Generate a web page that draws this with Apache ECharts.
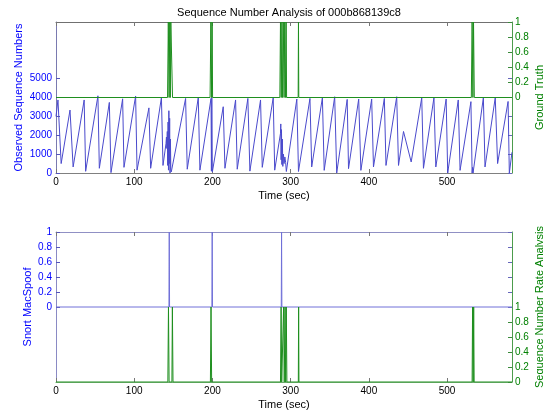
<!DOCTYPE html>
<html><head><meta charset="utf-8">
<script src="https://cdn.jsdelivr.net/npm/echarts@6/dist/echarts.min.js"></script>
<style>html,body{margin:0;padding:0;background:#fff}#c{width:543px;height:413px}</style>
</head><body><div id="c"></div>
<script>
// ---- data ----
var titleText = 'Sequence Number Analysis of 000b868139c8';
var xTicks = [0, 100, 200, 300, 400, 500];
var seqTicks = [0, 1000, 2000, 3000, 4000, 5000];
var unitTicks = [0, 0.2, 0.4, 0.6, 0.8, 1];

var seqTime = [0,2.5,6.6,17.9,21.9,36.0,37.9,53.6,55.4,68.2,70.3,85.2,86.9,101.8,103.6,118.8,121.0,134.8,136.8,
  140.6,141.2,141.7,142.3,142.8,143.3,143.8,144.3,144.8,145.3,145.8,146.3,146.8,147.4,
  165.7,167.8,181.9,184.0,198.2,198.7,199.2,199.9,213.8,216.0,229.6,231.7,245.3,247.9,261.5,263.7,277.7,279.6,
  287.0,287.4,287.8,288.3,288.8,289.4,290.0,290.8,291.6,292.6,293.6,294.5,
  307.9,310.0,324.7,326.9,340.6,342.9,356.3,358.9,372.3,374.0,387.0,389.8,403.6,405.9,419.8,421.9,435.6,437.9,
  444.3,454.1,467.6,469.8,483.2,485.6,498.8,500.8,514.3,516.6,530.5,532.0,532.6,533.2,546.4,548.5,561.6,564.6,578.0,579.6,583.0];
var seqValue = [3000,3870,500,3335,320,3870,90,4090,250,3740,20,3930,300,4080,150,3450,250,4000,400,
  1550,1900,1300,2200,400,2700,150,3300,500,2900,0,1800,200,60,
  3950,200,3990,150,3950,100,4000,50,3510,250,3870,200,3950,100,3870,300,3990,150,
  2100,2600,700,2300,450,1800,350,1000,500,850,550,80,
  3920,80,3950,320,3990,140,4040,0,3900,230,3920,140,3920,320,3950,400,4040,400,
  2200,585,3990,250,3990,320,3920,0,3870,140,3780,0,300,0,3990,320,3990,500,3790,0,1100];

var truthTime = [0,142.6,143.6,144.6,145.4,146.2,146.8,148.0,149.0,197.0,198.0,199.0,199.6,200.2,
  286.2,287.0,288.0,288.8,289.6,290.6,291.6,292.4,293.5,294.2,294.8,309.6,310.0,310.4,531.0,532.0,533.0,533.8,534.8,583];
var truthValue = [0,0,1,0,1,0,1,1,0,0,1,0,1,0,
  0,1,0,1,0,1,0,1,0,1,0,0,1,0,0,1,0,1,0,0];

var snortTime = [0,144.4,144.8,145.2,199.3,199.7,200.1,288.0,288.4,288.8,583];
var snortValue = [0,0,1,0,0,1,0,0,1,0,0];

var rateTime = [0,143.0,143.8,144.6,148.2,148.8,149.6,197.4,198.2,199.0,287.0,287.8,288.6,290.4,291.0,291.8,292.8,293.6,294.4,295.2,
  309.8,310.2,310.6,532.0,532.6,533.4,534.0,534.6,583];
var rateValue = [0,0,1,0,0,1,0,0,1,0,0,1,0,0,1,0,1,0,1,0,0,1,0,0,1,0,1,0,0];

function pairs(t, v){ return t.map(function(x,i){ return [x, v[i]]; }); }

// ---- chart ----
var FONT = "'Liberation Sans', Arial, sans-serif";
var BLUE = '#0000ff', GREEN = '#008000';
var chart = echarts.init(document.getElementById('c'), null, {renderer:'canvas'});
function plain(v){ return String(Math.round(v*10)/10); }

function xAx(grid, pos, labels, lineColor){
  return {
    type:'value', gridIndex:grid, position:pos, min:0, max:583, interval:100,
    axisLine:{show:true, onZero:false, lineStyle:{color:lineColor, width:1}},
    axisTick:{show:true, inside:true, length:4, lineStyle:{color:'#777'}, customValues:xTicks},
    axisLabel:{show:labels, margin:4, fontSize:10, color:'#000', fontFamily:FONT, customValues:xTicks, formatter:plain},
    splitLine:{show:false},
    name: labels ? 'Time (sec)' : '', nameLocation:'middle', nameGap:17, nameMoveOverlap:false,
    nameTextStyle:{fontSize:11, color:'#000', fontFamily:FONT}
  };
}
function yAx(grid, pos, min, max, interval, ticks, opts){
  return {
    type:'value', gridIndex:grid, position:pos, min:min, max:max, interval:interval,
    axisLine:{show:opts.line!==false, onZero:false, lineStyle:{color:opts.lineColor||'#888', width:1}},
    axisTick:{show:true, inside:true, length:4, lineStyle:{color:opts.tickColor}, customValues:ticks},
    axisLabel:{show:!!opts.labels, margin:opts.margin||4, fontSize:10, color:opts.textColor, fontFamily:FONT, customValues:ticks, formatter:plain},
    splitLine:{show:false},
    name: opts.name||'', nameLocation:'middle', nameRotate:90, nameGap:opts.nameGap||30, nameMoveOverlap:false,
    nameTextStyle:{fontSize:11, color:opts.textColor, fontFamily:FONT}
  };
}

var option = {
  animation:false,
  backgroundColor:'#fff',
  title:{text:titleText, left:284, top:2, textAlign:'center',
    textStyle:{fontSize:11, fontWeight:'normal', color:'#000', fontFamily:FONT}},
  grid:[
    {left:56, top:22, width:456, height:151, show:false, containLabel:false, outerBoundsMode:'none'},
    {left:56, top:232, width:456, height:150, show:false, containLabel:false, outerBoundsMode:'none'}
  ],
  xAxis:[
    xAx(0,'bottom',true,'#808080'),
    xAx(0,'top',false,'#707070'),
    xAx(1,'bottom',true,'#6aaa6a'),
    xAx(1,'top',false,'#9090c4')
  ],
  yAxis:[
    yAx(0,'left',0,8000,1000,seqTicks,{labels:true,lineColor:'#7a7ab0',tickColor:'#5555bb',textColor:BLUE,name:'Observed Sequence Numbers',nameGap:32}),
    yAx(0,'right',-1,1,0.2,unitTicks,{labels:true,lineColor:'#4c9c4c',tickColor:'#3a8a3a',textColor:GREEN,name:'Ground Truth',nameGap:22,margin:3}),
    yAx(0,'right',0,8000,1000,seqTicks,{labels:false,line:false,tickColor:'#6666bb',textColor:BLUE}),
    yAx(1,'left',-1,1,0.2,unitTicks,{labels:true,lineColor:'#8a8ac4',tickColor:'#5555bb',textColor:BLUE,name:'Snort MacSpoof',nameGap:23}),
    yAx(1,'right',0,2,0.2,unitTicks,{labels:true,lineColor:'#4c9c4c',tickColor:'#3a8a3a',textColor:GREEN,name:'Sequence Number Rate Analysis',nameGap:22,margin:3}),
    yAx(1,'right',-1,1,0.2,unitTicks,{labels:false,line:false,tickColor:'#6666bb',textColor:BLUE})
  ],
  series:[
    {type:'line', xAxisIndex:0, yAxisIndex:0, data:pairs(seqTime,seqValue), symbol:'none',
      lineStyle:{color:'#4a4acc', width:1}, z:2},
    {type:'line', xAxisIndex:0, yAxisIndex:1, data:pairs(truthTime,truthValue), symbol:'none',
      lineStyle:{color:'#1f8f1f', width:1}, z:3},
    {type:'line', xAxisIndex:2, yAxisIndex:3, data:pairs(snortTime,snortValue), symbol:'none',
      lineStyle:{color:'#7070d8', width:1}, z:2},
    {type:'line', xAxisIndex:2, yAxisIndex:4, data:pairs(rateTime,rateValue), symbol:'none',
      lineStyle:{color:'#1f8f1f', width:1}, z:3}
  ]
};
chart.setOption(option);
</script>
</body></html>
